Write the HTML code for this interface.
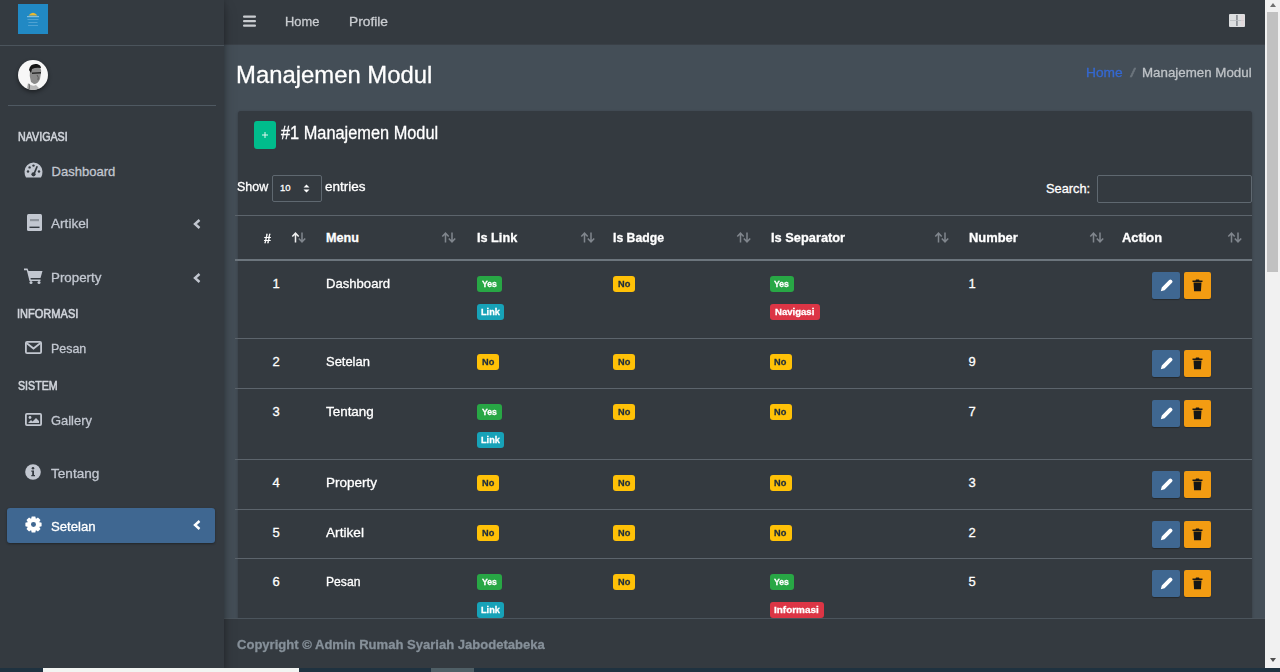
<!DOCTYPE html>
<html><head><meta charset="utf-8"><title>Manajemen Modul</title>
<style>
html,body{margin:0;padding:0;width:1280px;height:672px;overflow:hidden;background:#444e57;font-family:"Liberation Sans", sans-serif;}
.r{position:absolute;}
.t{position:absolute;white-space:nowrap;font-family:"Liberation Sans", sans-serif;-webkit-text-stroke:0.3px currentColor;}
.b{position:absolute;font-family:"Liberation Sans", sans-serif;font-weight:700;font-size:9.5px;line-height:10px;padding:3px 4px 3px 4px;border-radius:3px;white-space:nowrap;}
</style></head><body>
<div class="r" style="left:224px;top:45px;width:1041px;height:622px;background:#444e57;"></div>
<div class="r" style="left:0px;top:0px;width:1265px;height:45px;background:#343a40;"></div>
<div class="r" style="left:224px;top:44px;width:1041px;height:1px;background:#3a4047;"></div>
<div class="r" style="left:0;top:0;width:224px;height:668px;background:#343a40;box-shadow:0 8px 12px rgba(0,0,0,.25),0 0 5px rgba(0,0,0,.22);z-index:5"></div>
<div class="r" style="left:0;top:0;width:224px;height:668px;z-index:6"><div class="r" style="left:0;top:45px;width:224px;height:1px;background:#4b545c"></div><svg class="r" style="left:18px;top:4px" width="30" height="30" viewBox="0 0 30 30">
<rect width="30" height="30" fill="#2189c4"/>
<path d="M10.5 11.5 Q15 6 19.5 11.5 Z" fill="#e9b92f"/>
<rect x="9" y="12" width="12" height="1.2" fill="#7fbde0"/>
<rect x="9.5" y="15" width="11" height="1" fill="#4fa2d2"/>
<rect x="10.5" y="18" width="9" height="1" fill="#4fa2d2"/>
<rect x="10" y="21" width="10" height="1" fill="#4fa2d2"/>
</svg><svg class="r" style="left:17px;top:59px;filter:drop-shadow(0 2px 2px rgba(0,0,0,.45))" width="32" height="32" viewBox="0 0 32 32">
<defs><clipPath id="cc"><circle cx="16" cy="16" r="15"/></clipPath></defs>
<circle cx="16" cy="16" r="15" fill="#f7f7f7"/>
<g clip-path="url(#cc)">
<path d="M13 10 Q15 6 21 7 Q25 9 24 14 L23 20 Q21 25 17 25 L14 23 Q12 17 13 10Z" fill="#8a8a8a"/>
<path d="M12 11 Q13 4 20 5 Q24 6 24 9 Q19 8 15 10 L14 14 Z" fill="#151515"/>
<path d="M15 13.5 L24 13 L24 14.5 L15 15Z" fill="#2a2a2a"/>
<path d="M20 16 Q22 18 21 21" stroke="#5a5a5a" stroke-width="1" fill="none"/>
<path d="M9 33 L11 24 Q15 28 19 26 L26 33Z" fill="#b8b8b8"/>
<path d="M12 25 Q13 29 11 33" stroke="#6a6a6a" stroke-width="1.2" fill="none"/>
</g></svg><div class="r" style="left:8px;top:105px;width:208px;height:1px;background:#4f5962"></div><div class="t" style="left:18.00px;top:130.64px;font-size:12px;line-height:12px;font-weight:400;color:#d0d4db;transform:scaleX(0.8909);transform-origin:0 0;-webkit-text-stroke:0.6px #d0d4db">NAVIGASI</div><div class="t" style="left:51.60px;top:164.70px;font-size:13px;line-height:13px;font-weight:400;color:#c2c7d0;">Dashboard</div><div class="t" style="left:50.50px;top:217.30px;font-size:13px;line-height:13px;font-weight:400;color:#c2c7d0;transform:scaleX(1.0472);transform-origin:0 0;">Artikel</div><div class="t" style="left:51.00px;top:270.90px;font-size:13px;line-height:13px;font-weight:400;color:#c2c7d0;transform:scaleX(1.0260);transform-origin:0 0;">Property</div><div class="t" style="left:16.98px;top:307.54px;font-size:12px;line-height:12px;font-weight:400;color:#d0d4db;transform:scaleX(0.9200);transform-origin:0 0;-webkit-text-stroke:0.6px #d0d4db">INFORMASI</div><div class="t" style="left:50.60px;top:342.00px;font-size:13px;line-height:13px;font-weight:400;color:#c2c7d0;transform:scaleX(0.9568);transform-origin:0 0;">Pesan</div><div class="t" style="left:17.90px;top:379.84px;font-size:12px;line-height:12px;font-weight:400;color:#d0d4db;transform:scaleX(0.8864);transform-origin:0 0;-webkit-text-stroke:0.6px #d0d4db">SISTEM</div><div class="t" style="left:50.60px;top:414.00px;font-size:13px;line-height:13px;font-weight:400;color:#c2c7d0;transform:scaleX(0.9929);transform-origin:0 0;">Gallery</div><div class="t" style="left:50.70px;top:466.90px;font-size:13px;line-height:13px;font-weight:400;color:#c2c7d0;transform:scaleX(1.0457);transform-origin:0 0;">Tentang</div><div class="r" style="left:7px;top:508px;width:208px;height:35px;background:#3f6791;border-radius:3px;box-shadow:0 1px 3px rgba(0,0,0,.12),0 1px 2px rgba(0,0,0,.24)"></div><div class="t" style="left:50.70px;top:520.20px;font-size:13px;line-height:13px;font-weight:400;color:#fff;transform:scaleX(1.0114);transform-origin:0 0;">Setelan</div><svg class="r" style="left:24px;top:162px" width="19" height="16" viewBox="0 0 19 16">
<path d="M9.5 0.5 A9 9 0 0 0 0.5 9.5 Q0.5 13 2 15.5 L17 15.5 Q18.5 13 18.5 9.5 A9 9 0 0 0 9.5 0.5Z" fill="#c2c7d0"/>
<circle cx="4" cy="9.5" r="1.2" fill="#343a40"/><circle cx="5.6" cy="5.4" r="1.2" fill="#343a40"/>
<circle cx="15" cy="9.5" r="1.2" fill="#343a40"/>
<circle cx="9.5" cy="3.6" r="1.2" fill="#343a40"/>
<path d="M13.2 4.2 L10.2 11.5" stroke="#343a40" stroke-width="1.7"/><circle cx="9.5" cy="12.3" r="2.1" fill="#343a40"/>
</svg><svg class="r" style="left:26.5px;top:214px" width="15" height="17" viewBox="0 0 15 17">
<path d="M0 1.5 Q0 0 1.5 0 L13.5 0 Q15 0 15 1.5 L15 15.5 Q15 17 13.5 17 L1.5 17 Q0 17 0 15.5Z" fill="#c2c7d0"/>
<rect x="3" y="5" width="9" height="2.2" fill="#8e949c"/>
<rect x="2.5" y="12.6" width="10" height="1.4" fill="#343a40"/>
</svg><svg class="r" style="left:24px;top:267.5px" width="19" height="16" viewBox="0 0 19 16">
<path d="M0 0.5 L3.5 0.5 L4.5 3 L18.5 3 L16.5 10 L6.5 10 L6.8 11.5 L16.5 11.5 L16.5 13 L5.5 13 L2.8 2.2 L0 2.2Z" fill="#c2c7d0"/>
<circle cx="7" cy="14.5" r="1.5" fill="#c2c7d0"/><circle cx="15" cy="14.5" r="1.5" fill="#c2c7d0"/>
</svg><svg class="r" style="left:25px;top:340.5px" width="17" height="13" viewBox="0 0 17 13">
<rect x="0.9" y="0.9" width="15.2" height="11.2" rx="1.2" fill="none" stroke="#c2c7d0" stroke-width="1.8"/>
<path d="M1.5 2 L8.5 7.5 L15.5 2" fill="none" stroke="#c2c7d0" stroke-width="1.8"/>
</svg><svg class="r" style="left:25px;top:412.5px" width="17" height="13" viewBox="0 0 17 13">
<rect x="0.9" y="0.9" width="15.2" height="11.2" rx="1" fill="none" stroke="#c2c7d0" stroke-width="1.8"/>
<circle cx="5" cy="4.5" r="1.4" fill="#c2c7d0"/>
<path d="M3 10 L6 7 L7.5 8.5 L11 5 L14 8 L14 10Z" fill="#c2c7d0"/>
</svg><svg class="r" style="left:25px;top:463.5px" width="16" height="16" viewBox="0 0 16 16">
<circle cx="8" cy="8" r="7.8" fill="#c2c7d0"/>
<circle cx="8" cy="4.3" r="1.3" fill="#343a40"/>
<path d="M6.3 6.5 L9 6.5 L9 11 L10 11 L10 12.3 L6.3 12.3 L6.3 11 L7.2 11 L7.2 7.8 L6.3 7.8Z" fill="#343a40"/>
</svg><svg class="r" style="left:25px;top:516px" width="17" height="17" viewBox="0 0 16.4 16.4">
<path d="M16.01 6.45 L16.01 9.95 L13.50 10.57 L13.62 10.27 L14.96 12.49 L12.49 14.96 L10.27 13.62 L10.57 13.50 L9.95 16.01 L6.45 16.01 L5.83 13.50 L6.13 13.62 L3.91 14.96 L1.44 12.49 L2.78 10.27 L2.90 10.57 L0.39 9.95 L0.39 6.45 L2.90 5.83 L2.78 6.13 L1.44 3.91 L3.91 1.44 L6.13 2.78 L5.83 2.90 L6.45 0.39 L9.95 0.39 L10.57 2.90 L10.27 2.78 L12.49 1.44 L14.96 3.91 L13.62 6.13 L13.50 5.83Z" fill="#fff"/><circle cx="8.2" cy="8.2" r="2.4" fill="#3f6791"/>
</svg><svg class="r" style="left:193px;top:219px" width="8" height="10" viewBox="0 0 8 10"><path d="M6.5 1 L2 5 L6.5 9" fill="none" stroke="#c2c7d0" stroke-width="2.4"/></svg><svg class="r" style="left:193px;top:272.5px" width="8" height="10" viewBox="0 0 8 10"><path d="M6.5 1 L2 5 L6.5 9" fill="none" stroke="#c2c7d0" stroke-width="2.4"/></svg><svg class="r" style="left:193px;top:520px" width="8" height="10" viewBox="0 0 8 10"><path d="M6.5 1 L2 5 L6.5 9" fill="none" stroke="#fff" stroke-width="2.4"/></svg></div>
<svg class="r" style="left:243px;top:15px" width="13" height="12" viewBox="0 0 13 12">
<rect x="0" y="0.5" width="13" height="2.2" rx="1" fill="#c9ccd0"/><rect x="0" y="5" width="13" height="2.2" rx="1" fill="#c9ccd0"/><rect x="0" y="9.5" width="13" height="2.2" rx="1" fill="#c9ccd0"/></svg>
<div class="t" style="left:285.20px;top:14.80px;font-size:13px;line-height:13px;font-weight:400;color:#c9ccd0;transform:scaleX(0.9886);transform-origin:0 0;">Home</div>
<div class="t" style="left:349.20px;top:14.80px;font-size:13px;line-height:13px;font-weight:400;color:#c9ccd0;transform:scaleX(1.0568);transform-origin:0 0;">Profile</div>
<svg class="r" style="left:1229px;top:14px" width="16" height="13" viewBox="0 0 16 13">
<rect width="16" height="13" rx="1" fill="#dcdee0"/><rect x="7.4" y="1" width="1.1" height="11" fill="#5d636a"/><rect x="1" y="6" width="14" height="0.8" fill="#b9bdc1"/><rect x="12" y="1" width="3" height="11" fill="#e6d6d8" opacity=".6"/></svg>
<div class="t" style="left:236.43px;top:63.26px;font-size:24.5px;line-height:24.5px;font-weight:400;color:#fff;transform:scaleX(0.9740);transform-origin:0 0;">Manajemen Modul</div>
<div class="t" style="left:1086.00px;top:66.13px;font-size:13.2px;line-height:13.2px;font-weight:400;color:#3568d0;transform:scaleX(1.0429);transform-origin:0 0;">Home</div>
<div class="t" style="left:1129.50px;top:66.13px;font-size:13.2px;line-height:13.2px;font-weight:400;color:#6c757d;transform:scaleX(1.6250);transform-origin:0 0;">/</div>
<div class="t" style="left:1141.80px;top:66.13px;font-size:13.2px;line-height:13.2px;font-weight:400;color:#bfc3c7;transform:scaleX(1.0102);transform-origin:0 0;">Manajemen Modul</div>
<div class="r" style="left:238px;top:111px;width:1014px;height:520px;background:#343a40;box-shadow:0 0 1px rgba(0,0,0,.125),0 1px 3px rgba(0,0,0,.2);border-radius:3px"></div>
<div class="r" style="left:254px;top:121px;width:22px;height:28px;background:#00bc8c;border-radius:3px"></div>
<svg class="r" style="left:260px;top:130px" width="10" height="10" viewBox="0 0 10 10"><path d="M5 2V8M2 5H8" stroke="#dff7ef" stroke-width="1"/></svg>
<div class="t" style="left:280.63px;top:125.19px;font-size:17.5px;line-height:17.5px;font-weight:400;color:#fff;transform:scaleX(0.9337);transform-origin:0 0;">#1 Manajemen Modul</div>
<div class="t" style="left:236.70px;top:180.86px;font-size:12.8px;line-height:12.8px;font-weight:400;color:#fff;transform:scaleX(0.9758);transform-origin:0 0;">Show</div>
<div class="r" style="left:272px;top:175px;width:50px;height:27px;background:#343a40;border:1px solid #5f6870;box-sizing:border-box;border-radius:2px"></div>
<div class="t" style="left:280.00px;top:182.96px;font-size:9.5px;line-height:9.5px;font-weight:400;color:#fff;">10</div>
<svg class="r" style="left:303px;top:184px" width="7" height="9" viewBox="0 0 7 9"><path d="M3.5 0.5 L6.5 3.5 L0.5 3.5Z M3.5 8.5 L6.5 5.5 L0.5 5.5Z" fill="#fff"/></svg>
<div class="t" style="left:324.80px;top:180.76px;font-size:12.8px;line-height:12.8px;font-weight:400;color:#fff;transform:scaleX(1.0564);transform-origin:0 0;">entries</div>
<div class="t" style="left:1046.00px;top:183.16px;font-size:12.8px;line-height:12.8px;font-weight:400;color:#fff;">Search:</div>
<div class="r" style="left:1097px;top:175px;width:155px;height:28px;background:#343a40;border:1px solid #5f6870;box-sizing:border-box;border-radius:2px"></div>
<div class="r" style="left:235px;top:215px;width:1017px;height:1px;background:#5c646c;"></div>
<div class="r" style="left:235px;top:259px;width:1017px;height:2px;background:#6c757d;"></div>
<div class="r" style="left:235px;top:338px;width:1017px;height:1px;background:#5c646c;"></div>
<div class="r" style="left:235px;top:388px;width:1017px;height:1px;background:#5c646c;"></div>
<div class="r" style="left:235px;top:459px;width:1017px;height:1px;background:#5c646c;"></div>
<div class="r" style="left:235px;top:509px;width:1017px;height:1px;background:#5c646c;"></div>
<div class="r" style="left:235px;top:558px;width:1017px;height:1px;background:#5c646c;"></div>
<div class="t" style="left:264.00px;top:231.50px;font-size:13px;line-height:13px;font-weight:700;color:#fff;transform:scaleX(0.9500);transform-origin:0 0;">#</div>
<div class="t" style="left:326.00px;top:231.83px;font-size:12.6px;line-height:12.6px;font-weight:700;color:#fff;">Menu</div>
<div class="t" style="left:476.60px;top:231.83px;font-size:12.6px;line-height:12.6px;font-weight:700;color:#fff;transform:scaleX(1.0075);transform-origin:0 0;">Is Link</div>
<div class="t" style="left:613.00px;top:231.83px;font-size:12.6px;line-height:12.6px;font-weight:700;color:#fff;transform:scaleX(0.9717);transform-origin:0 0;">Is Badge</div>
<div class="t" style="left:770.50px;top:231.83px;font-size:12.6px;line-height:12.6px;font-weight:700;color:#fff;transform:scaleX(1.0178);transform-origin:0 0;">Is Separator</div>
<div class="t" style="left:968.60px;top:231.83px;font-size:12.6px;line-height:12.6px;font-weight:700;color:#fff;transform:scaleX(1.0250);transform-origin:0 0;">Number</div>
<div class="t" style="left:1122.20px;top:231.83px;font-size:12.6px;line-height:12.6px;font-weight:700;color:#fff;transform:scaleX(1.0205);transform-origin:0 0;">Action</div>
<svg class="r" style="left:291px;top:232px" width="16" height="11" viewBox="0 0 16 11"><path d="M4.5 10.5V1.5M1.3 4.6L4.5 1.2L7.7 4.6" fill="none" stroke="#f0f0f0" stroke-width="1.5"/><path d="M11 0.5V9.5M7.8 6.4L11 9.8L14.2 6.4" fill="none" stroke="#80868d" stroke-width="1.5"/></svg>
<svg class="r" style="left:441px;top:232px" width="16" height="11" viewBox="0 0 16 11"><path d="M4.5 10.5V1.5M1.3 4.6L4.5 1.2L7.7 4.6" fill="none" stroke="#80868d" stroke-width="1.5"/><path d="M11 0.5V9.5M7.8 6.4L11 9.8L14.2 6.4" fill="none" stroke="#80868d" stroke-width="1.5"/></svg>
<svg class="r" style="left:580px;top:232px" width="16" height="11" viewBox="0 0 16 11"><path d="M4.5 10.5V1.5M1.3 4.6L4.5 1.2L7.7 4.6" fill="none" stroke="#80868d" stroke-width="1.5"/><path d="M11 0.5V9.5M7.8 6.4L11 9.8L14.2 6.4" fill="none" stroke="#80868d" stroke-width="1.5"/></svg>
<svg class="r" style="left:736px;top:232px" width="16" height="11" viewBox="0 0 16 11"><path d="M4.5 10.5V1.5M1.3 4.6L4.5 1.2L7.7 4.6" fill="none" stroke="#80868d" stroke-width="1.5"/><path d="M11 0.5V9.5M7.8 6.4L11 9.8L14.2 6.4" fill="none" stroke="#80868d" stroke-width="1.5"/></svg>
<svg class="r" style="left:933.5px;top:232px" width="16" height="11" viewBox="0 0 16 11"><path d="M4.5 10.5V1.5M1.3 4.6L4.5 1.2L7.7 4.6" fill="none" stroke="#80868d" stroke-width="1.5"/><path d="M11 0.5V9.5M7.8 6.4L11 9.8L14.2 6.4" fill="none" stroke="#80868d" stroke-width="1.5"/></svg>
<svg class="r" style="left:1088.5px;top:232px" width="16" height="11" viewBox="0 0 16 11"><path d="M4.5 10.5V1.5M1.3 4.6L4.5 1.2L7.7 4.6" fill="none" stroke="#80868d" stroke-width="1.5"/><path d="M11 0.5V9.5M7.8 6.4L11 9.8L14.2 6.4" fill="none" stroke="#80868d" stroke-width="1.5"/></svg>
<svg class="r" style="left:1227px;top:232px" width="16" height="11" viewBox="0 0 16 11"><path d="M4.5 10.5V1.5M1.3 4.6L4.5 1.2L7.7 4.6" fill="none" stroke="#80868d" stroke-width="1.5"/><path d="M11 0.5V9.5M7.8 6.4L11 9.8L14.2 6.4" fill="none" stroke="#80868d" stroke-width="1.5"/></svg>
<div class="t" style="left:272.50px;top:277.00px;font-size:13px;line-height:13px;font-weight:400;color:#fff;">1</div>
<div class="t" style="left:325.90px;top:277.00px;font-size:13px;line-height:13px;font-weight:400;color:#fff;transform:scaleX(1.0079);transform-origin:0 0;">Dashboard</div>
<div class="t" style="left:968.50px;top:277.00px;font-size:13px;line-height:13px;font-weight:400;color:#fff;">1</div>
<div class="r" style="left:477px;top:276px;width:24.5px;height:15.5px;background:#28a745;border-radius:3px"></div>
<div class="t" style="left:481.75px;top:279.00px;font-size:9.8px;line-height:9.8px;font-weight:700;color:#fff;transform:scaleX(0.8824);transform-origin:0 0;">Yes</div>
<div class="r" style="left:477px;top:304px;width:27.4px;height:15.5px;background:#17a2b8;border-radius:3px"></div>
<div class="t" style="left:480.90px;top:307.00px;font-size:9.8px;line-height:9.8px;font-weight:700;color:#fff;transform:scaleX(0.9333);transform-origin:0 0;">Link</div>
<div class="r" style="left:613px;top:276px;width:22px;height:15.5px;background:#ffc107;border-radius:3px"></div>
<div class="t" style="left:617.90px;top:279.00px;font-size:9.8px;line-height:9.8px;font-weight:700;color:#1f2d3d;transform:scaleX(0.9385);transform-origin:0 0;">No</div>
<div class="r" style="left:769.5px;top:276px;width:24.5px;height:15.5px;background:#28a745;border-radius:3px"></div>
<div class="t" style="left:774.25px;top:279.00px;font-size:9.8px;line-height:9.8px;font-weight:700;color:#fff;transform:scaleX(0.8824);transform-origin:0 0;">Yes</div>
<div class="r" style="left:769.5px;top:304px;width:50px;height:15.5px;background:#dc3545;border-radius:3px"></div>
<div class="t" style="left:775.00px;top:307.00px;font-size:9.8px;line-height:9.8px;font-weight:700;color:#fff;transform:scaleX(0.9750);transform-origin:0 0;">Navigasi</div>
<div class="r" style="left:1152px;top:272px;width:28px;height:27px;background:#3f6791;border-radius:2px;box-shadow:0 1px 1px rgba(0,0,0,.3)"></div>
<svg class="r" style="left:1159px;top:278px" width="15" height="15" viewBox="0 0 15 15"><path d="M1.8 13.2 L2.8 9.4 L10.2 2 Q11.4 0.8 12.6 2 L13 2.4 Q14.2 3.6 13 4.8 L5.6 12.2 Z" fill="#fff"/></svg>
<div class="r" style="left:1184px;top:272px;width:27px;height:27px;background:#f39c12;border-radius:2px;box-shadow:0 1px 1px rgba(0,0,0,.3)"></div>
<svg class="r" style="left:1192px;top:278.5px" width="11" height="13" viewBox="0 0 11 13"><path d="M0.5 1.6 L3.5 1.6 L4 0.6 L7 0.6 L7.5 1.6 L10.5 1.6 L10.5 3 L0.5 3Z" fill="#161616"/><path d="M1.5 3.6 L9.5 3.6 L8.9 12.3 L2.1 12.3Z" fill="#161616"/></svg>
<div class="t" style="left:272.50px;top:355.00px;font-size:13px;line-height:13px;font-weight:400;color:#fff;">2</div>
<div class="t" style="left:325.90px;top:355.00px;font-size:13px;line-height:13px;font-weight:400;color:#fff;transform:scaleX(0.9955);transform-origin:0 0;">Setelan</div>
<div class="t" style="left:968.50px;top:355.00px;font-size:13px;line-height:13px;font-weight:400;color:#fff;">9</div>
<div class="r" style="left:477px;top:354px;width:22px;height:15.5px;background:#ffc107;border-radius:3px"></div>
<div class="t" style="left:481.90px;top:357.00px;font-size:9.8px;line-height:9.8px;font-weight:700;color:#1f2d3d;transform:scaleX(0.9385);transform-origin:0 0;">No</div>
<div class="r" style="left:613px;top:354px;width:22px;height:15.5px;background:#ffc107;border-radius:3px"></div>
<div class="t" style="left:617.90px;top:357.00px;font-size:9.8px;line-height:9.8px;font-weight:700;color:#1f2d3d;transform:scaleX(0.9385);transform-origin:0 0;">No</div>
<div class="r" style="left:769.5px;top:354px;width:22px;height:15.5px;background:#ffc107;border-radius:3px"></div>
<div class="t" style="left:774.40px;top:357.00px;font-size:9.8px;line-height:9.8px;font-weight:700;color:#1f2d3d;transform:scaleX(0.9385);transform-origin:0 0;">No</div>
<div class="r" style="left:1152px;top:350px;width:28px;height:27px;background:#3f6791;border-radius:2px;box-shadow:0 1px 1px rgba(0,0,0,.3)"></div>
<svg class="r" style="left:1159px;top:356px" width="15" height="15" viewBox="0 0 15 15"><path d="M1.8 13.2 L2.8 9.4 L10.2 2 Q11.4 0.8 12.6 2 L13 2.4 Q14.2 3.6 13 4.8 L5.6 12.2 Z" fill="#fff"/></svg>
<div class="r" style="left:1184px;top:350px;width:27px;height:27px;background:#f39c12;border-radius:2px;box-shadow:0 1px 1px rgba(0,0,0,.3)"></div>
<svg class="r" style="left:1192px;top:356.5px" width="11" height="13" viewBox="0 0 11 13"><path d="M0.5 1.6 L3.5 1.6 L4 0.6 L7 0.6 L7.5 1.6 L10.5 1.6 L10.5 3 L0.5 3Z" fill="#161616"/><path d="M1.5 3.6 L9.5 3.6 L8.9 12.3 L2.1 12.3Z" fill="#161616"/></svg>
<div class="t" style="left:272.50px;top:405.00px;font-size:13px;line-height:13px;font-weight:400;color:#fff;">3</div>
<div class="t" style="left:325.90px;top:405.00px;font-size:13px;line-height:13px;font-weight:400;color:#fff;transform:scaleX(1.0326);transform-origin:0 0;">Tentang</div>
<div class="t" style="left:968.50px;top:405.00px;font-size:13px;line-height:13px;font-weight:400;color:#fff;">7</div>
<div class="r" style="left:477px;top:404px;width:24.5px;height:15.5px;background:#28a745;border-radius:3px"></div>
<div class="t" style="left:481.75px;top:407.00px;font-size:9.8px;line-height:9.8px;font-weight:700;color:#fff;transform:scaleX(0.8824);transform-origin:0 0;">Yes</div>
<div class="r" style="left:477px;top:432px;width:27.4px;height:15.5px;background:#17a2b8;border-radius:3px"></div>
<div class="t" style="left:480.90px;top:435.00px;font-size:9.8px;line-height:9.8px;font-weight:700;color:#fff;transform:scaleX(0.9333);transform-origin:0 0;">Link</div>
<div class="r" style="left:613px;top:404px;width:22px;height:15.5px;background:#ffc107;border-radius:3px"></div>
<div class="t" style="left:617.90px;top:407.00px;font-size:9.8px;line-height:9.8px;font-weight:700;color:#1f2d3d;transform:scaleX(0.9385);transform-origin:0 0;">No</div>
<div class="r" style="left:769.5px;top:404px;width:22px;height:15.5px;background:#ffc107;border-radius:3px"></div>
<div class="t" style="left:774.40px;top:407.00px;font-size:9.8px;line-height:9.8px;font-weight:700;color:#1f2d3d;transform:scaleX(0.9385);transform-origin:0 0;">No</div>
<div class="r" style="left:1152px;top:400px;width:28px;height:27px;background:#3f6791;border-radius:2px;box-shadow:0 1px 1px rgba(0,0,0,.3)"></div>
<svg class="r" style="left:1159px;top:406px" width="15" height="15" viewBox="0 0 15 15"><path d="M1.8 13.2 L2.8 9.4 L10.2 2 Q11.4 0.8 12.6 2 L13 2.4 Q14.2 3.6 13 4.8 L5.6 12.2 Z" fill="#fff"/></svg>
<div class="r" style="left:1184px;top:400px;width:27px;height:27px;background:#f39c12;border-radius:2px;box-shadow:0 1px 1px rgba(0,0,0,.3)"></div>
<svg class="r" style="left:1192px;top:406.5px" width="11" height="13" viewBox="0 0 11 13"><path d="M0.5 1.6 L3.5 1.6 L4 0.6 L7 0.6 L7.5 1.6 L10.5 1.6 L10.5 3 L0.5 3Z" fill="#161616"/><path d="M1.5 3.6 L9.5 3.6 L8.9 12.3 L2.1 12.3Z" fill="#161616"/></svg>
<div class="t" style="left:272.50px;top:476.00px;font-size:13px;line-height:13px;font-weight:400;color:#fff;">4</div>
<div class="t" style="left:325.90px;top:476.00px;font-size:13px;line-height:13px;font-weight:400;color:#fff;transform:scaleX(1.0400);transform-origin:0 0;">Property</div>
<div class="t" style="left:968.50px;top:476.00px;font-size:13px;line-height:13px;font-weight:400;color:#fff;">3</div>
<div class="r" style="left:477px;top:475px;width:22px;height:15.5px;background:#ffc107;border-radius:3px"></div>
<div class="t" style="left:481.90px;top:478.00px;font-size:9.8px;line-height:9.8px;font-weight:700;color:#1f2d3d;transform:scaleX(0.9385);transform-origin:0 0;">No</div>
<div class="r" style="left:613px;top:475px;width:22px;height:15.5px;background:#ffc107;border-radius:3px"></div>
<div class="t" style="left:617.90px;top:478.00px;font-size:9.8px;line-height:9.8px;font-weight:700;color:#1f2d3d;transform:scaleX(0.9385);transform-origin:0 0;">No</div>
<div class="r" style="left:769.5px;top:475px;width:22px;height:15.5px;background:#ffc107;border-radius:3px"></div>
<div class="t" style="left:774.40px;top:478.00px;font-size:9.8px;line-height:9.8px;font-weight:700;color:#1f2d3d;transform:scaleX(0.9385);transform-origin:0 0;">No</div>
<div class="r" style="left:1152px;top:471px;width:28px;height:27px;background:#3f6791;border-radius:2px;box-shadow:0 1px 1px rgba(0,0,0,.3)"></div>
<svg class="r" style="left:1159px;top:477px" width="15" height="15" viewBox="0 0 15 15"><path d="M1.8 13.2 L2.8 9.4 L10.2 2 Q11.4 0.8 12.6 2 L13 2.4 Q14.2 3.6 13 4.8 L5.6 12.2 Z" fill="#fff"/></svg>
<div class="r" style="left:1184px;top:471px;width:27px;height:27px;background:#f39c12;border-radius:2px;box-shadow:0 1px 1px rgba(0,0,0,.3)"></div>
<svg class="r" style="left:1192px;top:477.5px" width="11" height="13" viewBox="0 0 11 13"><path d="M0.5 1.6 L3.5 1.6 L4 0.6 L7 0.6 L7.5 1.6 L10.5 1.6 L10.5 3 L0.5 3Z" fill="#161616"/><path d="M1.5 3.6 L9.5 3.6 L8.9 12.3 L2.1 12.3Z" fill="#161616"/></svg>
<div class="t" style="left:272.50px;top:526.00px;font-size:13px;line-height:13px;font-weight:400;color:#fff;">5</div>
<div class="t" style="left:325.90px;top:526.00px;font-size:13px;line-height:13px;font-weight:400;color:#fff;transform:scaleX(1.0500);transform-origin:0 0;">Artikel</div>
<div class="t" style="left:968.50px;top:526.00px;font-size:13px;line-height:13px;font-weight:400;color:#fff;">2</div>
<div class="r" style="left:477px;top:525px;width:22px;height:15.5px;background:#ffc107;border-radius:3px"></div>
<div class="t" style="left:481.90px;top:528.00px;font-size:9.8px;line-height:9.8px;font-weight:700;color:#1f2d3d;transform:scaleX(0.9385);transform-origin:0 0;">No</div>
<div class="r" style="left:613px;top:525px;width:22px;height:15.5px;background:#ffc107;border-radius:3px"></div>
<div class="t" style="left:617.90px;top:528.00px;font-size:9.8px;line-height:9.8px;font-weight:700;color:#1f2d3d;transform:scaleX(0.9385);transform-origin:0 0;">No</div>
<div class="r" style="left:769.5px;top:525px;width:22px;height:15.5px;background:#ffc107;border-radius:3px"></div>
<div class="t" style="left:774.40px;top:528.00px;font-size:9.8px;line-height:9.8px;font-weight:700;color:#1f2d3d;transform:scaleX(0.9385);transform-origin:0 0;">No</div>
<div class="r" style="left:1152px;top:521px;width:28px;height:27px;background:#3f6791;border-radius:2px;box-shadow:0 1px 1px rgba(0,0,0,.3)"></div>
<svg class="r" style="left:1159px;top:527px" width="15" height="15" viewBox="0 0 15 15"><path d="M1.8 13.2 L2.8 9.4 L10.2 2 Q11.4 0.8 12.6 2 L13 2.4 Q14.2 3.6 13 4.8 L5.6 12.2 Z" fill="#fff"/></svg>
<div class="r" style="left:1184px;top:521px;width:27px;height:27px;background:#f39c12;border-radius:2px;box-shadow:0 1px 1px rgba(0,0,0,.3)"></div>
<svg class="r" style="left:1192px;top:527.5px" width="11" height="13" viewBox="0 0 11 13"><path d="M0.5 1.6 L3.5 1.6 L4 0.6 L7 0.6 L7.5 1.6 L10.5 1.6 L10.5 3 L0.5 3Z" fill="#161616"/><path d="M1.5 3.6 L9.5 3.6 L8.9 12.3 L2.1 12.3Z" fill="#161616"/></svg>
<div class="t" style="left:272.50px;top:575.00px;font-size:13px;line-height:13px;font-weight:400;color:#fff;">6</div>
<div class="t" style="left:325.90px;top:575.00px;font-size:13px;line-height:13px;font-weight:400;color:#fff;transform:scaleX(0.9324);transform-origin:0 0;">Pesan</div>
<div class="t" style="left:968.50px;top:575.00px;font-size:13px;line-height:13px;font-weight:400;color:#fff;">5</div>
<div class="r" style="left:477px;top:574px;width:24.5px;height:15.5px;background:#28a745;border-radius:3px"></div>
<div class="t" style="left:481.75px;top:577.00px;font-size:9.8px;line-height:9.8px;font-weight:700;color:#fff;transform:scaleX(0.8824);transform-origin:0 0;">Yes</div>
<div class="r" style="left:477px;top:602px;width:27.4px;height:15.5px;background:#17a2b8;border-radius:3px"></div>
<div class="t" style="left:480.90px;top:605.00px;font-size:9.8px;line-height:9.8px;font-weight:700;color:#fff;transform:scaleX(0.9333);transform-origin:0 0;">Link</div>
<div class="r" style="left:613px;top:574px;width:22px;height:15.5px;background:#ffc107;border-radius:3px"></div>
<div class="t" style="left:617.90px;top:577.00px;font-size:9.8px;line-height:9.8px;font-weight:700;color:#1f2d3d;transform:scaleX(0.9385);transform-origin:0 0;">No</div>
<div class="r" style="left:769.5px;top:574px;width:24.5px;height:15.5px;background:#28a745;border-radius:3px"></div>
<div class="t" style="left:774.25px;top:577.00px;font-size:9.8px;line-height:9.8px;font-weight:700;color:#fff;transform:scaleX(0.8824);transform-origin:0 0;">Yes</div>
<div class="r" style="left:769.5px;top:602px;width:54px;height:15.5px;background:#dc3545;border-radius:3px"></div>
<div class="t" style="left:774.15px;top:605.00px;font-size:9.8px;line-height:9.8px;font-weight:700;color:#fff;transform:scaleX(1.0159);transform-origin:0 0;">Informasi</div>
<div class="r" style="left:1152px;top:570px;width:28px;height:27px;background:#3f6791;border-radius:2px;box-shadow:0 1px 1px rgba(0,0,0,.3)"></div>
<svg class="r" style="left:1159px;top:576px" width="15" height="15" viewBox="0 0 15 15"><path d="M1.8 13.2 L2.8 9.4 L10.2 2 Q11.4 0.8 12.6 2 L13 2.4 Q14.2 3.6 13 4.8 L5.6 12.2 Z" fill="#fff"/></svg>
<div class="r" style="left:1184px;top:570px;width:27px;height:27px;background:#f39c12;border-radius:2px;box-shadow:0 1px 1px rgba(0,0,0,.3)"></div>
<svg class="r" style="left:1192px;top:576.5px" width="11" height="13" viewBox="0 0 11 13"><path d="M0.5 1.6 L3.5 1.6 L4 0.6 L7 0.6 L7.5 1.6 L10.5 1.6 L10.5 3 L0.5 3Z" fill="#161616"/><path d="M1.5 3.6 L9.5 3.6 L8.9 12.3 L2.1 12.3Z" fill="#161616"/></svg>
<div class="r" style="left:224px;top:618px;width:1041px;height:50px;background:#343a40;border-top:1px solid #4b545c;box-sizing:border-box;z-index:3"></div>
<div class="t" style="left:236.50px;top:637.70px;font-size:13px;line-height:13px;font-weight:700;color:#869099;transform:scaleX(1.0036);transform-origin:0 0;z-index:4">Copyright © Admin Rumah Syariah Jabodetabeka</div>
<div class="r" style="left:1265px;top:0px;width:15px;height:668px;background:#f1f1f1;"></div>
<div class="r" style="left:1267px;top:12px;width:11px;height:260px;background:#c1c1c1;"></div>
<svg class="r" style="left:1269.5px;top:2.5px" width="6" height="4" viewBox="0 0 6 4"><path d="M3 0L6 4H0Z" fill="#707070"/></svg>
<svg class="r" style="left:1269.5px;top:658px" width="6" height="4" viewBox="0 0 6 4"><path d="M3 4L6 0H0Z" fill="#505050"/></svg>
<div class="r" style="left:0px;top:668px;width:1280px;height:4px;background:#1f3240;z-index:10"></div>
<div class="r" style="left:42.5px;top:668px;width:256.5px;height:4px;background:#f2f4f2;z-index:11"></div>
<div class="r" style="left:431px;top:668px;width:43px;height:4px;background:#4f5f66;z-index:11"></div>
</body></html>
